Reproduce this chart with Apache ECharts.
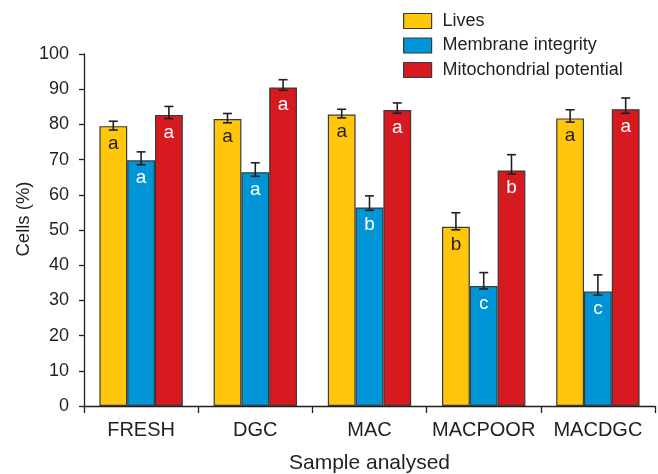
<!DOCTYPE html>
<html>
<head>
<meta charset="utf-8">
<script src="https://cdn.jsdelivr.net/npm/echarts@6/dist/echarts.min.js"></script>
<style>
html,body{margin:0;padding:0;background:#fff;}
#chart{width:658px;height:474px;}
</style>
</head>
<body>
<div id="chart"></div>
<script>
const categories = ['FRESH', 'DGC', 'MAC', 'MACPOOR', 'MACDGC'];
const seriesNames = ['Lives', 'Membrane integrity', 'Mitochondrial potential'];
const lives = [79.5, 81.5, 82.8, 50.9, 81.7];
const livesErrUp = [1.4, 1.6, 1.5, 4.0, 2.45];
const livesErrLow = [1.1, 1.05, 0.95, 0.85, 1.05];
const livesLetters = ['a', 'a', 'a', 'b', 'a'];
const membrane = [69.8, 66.4, 56.4, 34.1, 32.5];
const membraneErrUp = [2.4, 2.7, 3.3, 3.8, 4.75];
const membraneErrLow = [1.25, 1.15, 0.8, 0.85, 1.0];
const membraneLetters = ['a', 'a', 'b', 'c', 'c'];
const mito = [82.7, 90.5, 84.1, 66.9, 84.3];
const mitoErrUp = [2.4, 2.2, 2.0, 4.5, 3.2];
const mitoErrLow = [1.05, 0.8, 0.95, 1.0, 1.15];
const mitoLetters = ['a', 'a', 'a', 'b', 'a'];
const yTicks = [0, 10, 20, 30, 40, 50, 60, 70, 80, 90, 100];

const colors = ['#FFC60B', '#0095D7', '#D71920'];
const textColor = '#231F20';
const font = 'Liberation Sans';
const catGap = 0.27;

const values = [lives, membrane, mito];
const errsUp = [livesErrUp, membraneErrUp, mitoErrUp];
const errsLow = [livesErrLow, membraneErrLow, mitoErrLow];
const letters = [livesLetters, membraneLetters, mitoLetters];
const letterColors = [textColor, '#ffffff', '#ffffff'];

const barSeries = values.map((vals, s) => ({
  name: seriesNames[s],
  type: 'bar',
  data: vals,
  barGap: '0%',
  barCategoryGap: (catGap * 100) + '%',
  itemStyle: { color: colors[s], borderColor: '#3a3a3a', borderWidth: 1.2 },
  label: {
    show: true,
    position: 'insideTop',
    distance: 8,
    fontFamily: font,
    fontSize: 19,
    color: letterColors[s],
    formatter: p => letters[s][p.dataIndex]
  },
  z: 2
}));

const errSeries = values.map((vals, s) => ({
  name: seriesNames[s] + ' err',
  type: 'custom',
  data: vals.map((v, i) => [i, v, errsUp[s][i], errsLow[s][i]]),
  z: 5,
  silent: true,
  renderItem: function (params, api) {
    const i = api.value(0), v = api.value(1), eu = api.value(2), el = api.value(3);
    const band = api.size([1, 0])[0];
    const bw = band * (1 - catGap) / 3;
    const cx = api.coord([i, v])[0] + (s - 1) * bw;
    const yTop = api.coord([i, v + eu])[1];
    const yBot = api.coord([i, v - el])[1];
    const cap = 4.5;
    const style = { stroke: '#231F20', lineWidth: 1.6, fill: null };
    return {
      type: 'group',
      children: [
        { type: 'line', shape: { x1: cx, y1: yTop, x2: cx, y2: yBot }, style },
        { type: 'line', shape: { x1: cx - cap, y1: yTop, x2: cx + cap, y2: yTop }, style },
        { type: 'line', shape: { x1: cx - cap, y1: yBot, x2: cx + cap, y2: yBot }, style }
      ]
    };
  }
}));

const chart = echarts.init(document.getElementById('chart'), null, { renderer: 'canvas' });
chart.setOption({
  animation: false,
  backgroundColor: '#ffffff',
  textStyle: { fontFamily: font },
  grid: { left: 84, right: 3, top: 54, bottom: 68, containLabel: false, outerBoundsMode: 'none' },
  legend: {
    data: seriesNames,
    orient: 'vertical',
    left: 398,
    top: 7,
    itemWidth: 28,
    itemHeight: 15,
    itemGap: 6.5,
    icon: 'rect',
    itemStyle: { borderColor: '#3a3a3a', borderWidth: 1.2 },
    textStyle: { fontFamily: font, fontSize: 18, color: textColor, padding: [0, 0, 0, 6] },
    selectedMode: false
  },
  xAxis: {
    type: 'category',
    data: categories,
    name: 'Sample analysed',
    nameLocation: 'middle',
    nameGap: 47,
    nameMoveOverlap: false,
    nameTextStyle: { fontFamily: font, fontSize: 21, color: textColor },
    axisLine: { lineStyle: { color: '#231F20', width: 1.3 } },
    axisTick: { show: true, length: 7, interval: 0, alignWithLabel: false, lineStyle: { color: '#231F20', width: 1.3 } },
    axisLabel: { fontFamily: font, fontSize: 20, color: textColor, margin: 14, interval: 0 },
    splitLine: { show: false }
  },
  yAxis: {
    type: 'value',
    min: 0,
    max: 100,
    interval: 10,
    name: 'Cells (%)',
    nameLocation: 'middle',
    nameGap: 51,
    nameMoveOverlap: false,
    nameRotate: 90,
    nameTextStyle: { fontFamily: font, fontSize: 18.5, color: textColor, padding: [0, 0, 0, 22] },
    axisLine: { show: true, lineStyle: { color: '#231F20', width: 1.3 } },
    axisTick: { show: true, length: 5, lineStyle: { color: '#231F20', width: 1.3 } },
    axisLabel: { fontFamily: font, fontSize: 18, color: textColor, margin: 15,
      formatter: v => yTicks.indexOf(v) >= 0 ? String(v) : '' },
    splitLine: { show: false }
  },
  series: barSeries.concat(errSeries)
});
</script>
</body>
</html>
